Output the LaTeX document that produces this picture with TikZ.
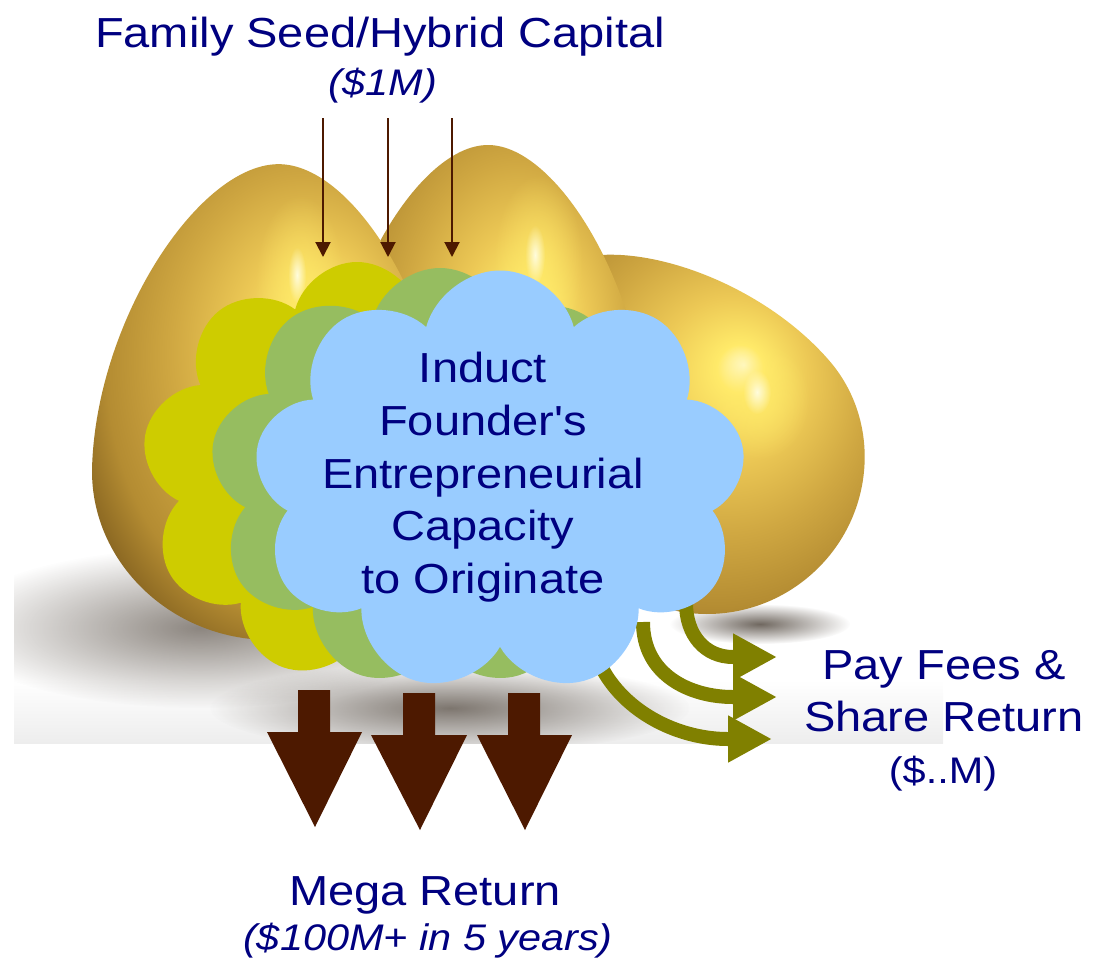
\documentclass[tikz,border=0pt]{standalone}
\usepackage{fontspec}
\newfontfamily\lsans{Liberation Sans}[FakeStretch=1.12]
\usetikzlibrary{shapes.symbols,arrows.meta,fadings}

\definecolor{navy}{RGB}{0,0,128}
\definecolor{arrbrown}{RGB}{77,25,0}
\definecolor{feeolive}{RGB}{128,128,0}
\definecolor{cyellow}{RGB}{206,204,0}
\definecolor{cgreen}{RGB}{150,189,96}
\definecolor{cblue}{RGB}{153,204,255}
\definecolor{gA}{RGB}{255,252,220}
\definecolor{gB}{RGB}{255,234,105}
\definecolor{gC}{RGB}{236,200,85}
\definecolor{gD}{RGB}{208,168,66}
\definecolor{gE}{RGB}{180,140,50}
\definecolor{gF}{RGB}{128,94,30}
\definecolor{shadowc}{RGB}{112,104,96}

\pgfdeclareradialshading{goldegg}{\pgfpoint{7bp}{8bp}}{%
  color(0bp)=(gA); color(3bp)=(gB); color(10bp)=(gC); color(18bp)=(gD);
  color(26bp)=(gE); color(32bp)=(gF); color(50bp)=(gF)}
\tikzfading[name=fuzzy, inner color=transparent!0, outer color=transparent!100]

% egg outline: half-width #1, top distance #2, bottom distance #3
\newcommand\eggpath[3]{(0,-#2) .. controls ({0.45*#1},-#2) and (#1,{-0.48*#2}) .. (#1,0)
  .. controls (#1,{0.55*#3}) and ({0.55*#1},#3) .. (0,#3)
  .. controls ({-0.55*#1},#3) and (-#1,{0.55*#3}) .. (-#1,0)
  .. controls (-#1,{-0.48*#2}) and ({-0.45*#1},-#2) .. cycle}

\begin{document}
\begin{tikzpicture}[x=1pt,y=-1pt,
  lbl/.style={font=\lsans\fontsize{42}{52.7}\selectfont, text=navy, inner sep=0pt},
  sub/.style={font=\lsans\fontsize{37}{44}\selectfont, text=navy, inner sep=0pt},
  subit/.style={font=\lsans\itshape\fontsize{37}{44}\selectfont, text=navy, inner sep=0pt},
  thinarr/.style={draw=arrbrown, line width=2pt, -{Triangle[width=15pt,length=15pt]}},
  feearr/.style={draw=feeolive, line width=14pt, -{Triangle[width=44pt,length=44pt]}},
  bigarr/.style={fill=arrbrown},
  cloudbase/.style={cloud, cloud puffs=9, cloud puff arc=150, cloud ignores aspect, inner sep=0pt, draw=none},
  egg/.style={shading=goldegg},
  glint/.style={fill=gA, path fading=fuzzy},
  glow/.style={fill=gB, path fading=fuzzy, opacity=.8},
  shadowblur/.style={fill=shadowc, path fading=fuzzy}]
\useasboundingbox (0,0) rectangle (1106,962);

% photo background
\fill[white] (14,100) rectangle (943,743);
\shade[top color=white, bottom color=black!7] (14,680) rectangle (943,743);
\begin{scope}
  \clip (14,100) rectangle (943,743);
  \fill[shadowblur, opacity=.8] (200,628) ellipse (250 and 80);
  \fill[shadowblur, opacity=.9] (450,708) ellipse (240 and 45);
  \fill[shadowblur] (760,624) ellipse (90 and 20);
\end{scope}

% golden eggs
\begin{scope}[shift={(712,462)}, rotate=41]
  \shade[egg] \eggpath{155}{250}{150};
\end{scope}
\begin{scope}[shift={(488,440)}]
  \shade[egg] \eggpath{160}{295}{195};
\end{scope}
\begin{scope}[shift={(270,472)}, rotate=-2]
  \shade[egg] \eggpath{178}{308}{168};
\end{scope}
\fill[glow] (300,285) ellipse (45 and 90);
\fill[glow] (538,265) ellipse (45 and 90);
\fill[glow] (760,400) ellipse (50 and 60);
\fill[glint] (297,275) ellipse (9 and 28);
\fill[glint] (535,255) ellipse (10 and 30);
\fill[glint] (757,392) ellipse (14 and 22);

% fee arrows (behind the clouds)
\coordinate (fa1) at (686,603);
\coordinate (fa2) at (643,622);
\coordinate (fa3) at (590,620);
\coordinate (fe1) at (777,657);
\coordinate (fe2) at (777,697);
\coordinate (fe3) at (772,739);
\draw[feearr] (fa1) .. controls (686,635) and (705,657) .. (733,657) -- (fe1);
\draw[feearr] (fa2) .. controls (643,675) and (690,697) .. (733,697) -- (fe2);
\draw[feearr] (fa3) .. controls (590,690) and (660,739) .. (728,739) -- (fe3);

% clouds
\node[cloudbase, fill=cyellow, minimum width=430pt, minimum height=418pt] (ycloud) at (357,471) {};
\node[cloudbase, fill=cgreen, minimum width=460pt, minimum height=420pt] (gcloud) at (440,478) {};
\node[cloudbase, fill=cblue, minimum width=492pt, minimum height=423pt] (bcloud) at (500,482) {};
\node[lbl, align=center, anchor=north] (core) at (483,352)
  {Induct\\Founder's\\Entrepreneurial\\Capacity\\to Originate};

% mega return arrows
\fill[bigarr] (298,690) -- (330,690) -- (330,732) -- (362,732) -- (315,827) -- (267,732) -- (298,732) -- cycle;
\fill[bigarr] (403,693) -- (435,693) -- (435,735) -- (467,735) -- (420,830) -- (371,735) -- (403,735) -- cycle;
\fill[bigarr] (508,693) -- (540,693) -- (540,735) -- (572,735) -- (525,830) -- (477,735) -- (508,735) -- cycle;

% capital input arrows
\coordinate (in1) at (323,118); \coordinate (to1) at (323,257);
\coordinate (in2) at (388,118); \coordinate (to2) at (388,257);
\coordinate (in3) at (452,118); \coordinate (to3) at (452,257);
\draw[thinarr] (in1) -- (to1);
\draw[thinarr] (in2) -- (to2);
\draw[thinarr] (in3) -- (to3);

% texts
\node[lbl, anchor=base] (title) at (380,47) {Family Seed/Hybrid Capital};
\node[subit, anchor=base] (seed) at (383,95) {(\$1M)};
\node[lbl, align=center, anchor=north] (fees) at (944,650) {Pay Fees \&\\Share Return};
\node[sub, anchor=base] (feeamt) at (943,783) {(\$..M)};
\node[lbl, anchor=base] (mega) at (425,905) {Mega Return};
\node[subit, anchor=base] (megaamt) at (428,950) {(\$100M+ in 5 years)};
\end{tikzpicture}
\end{document}
